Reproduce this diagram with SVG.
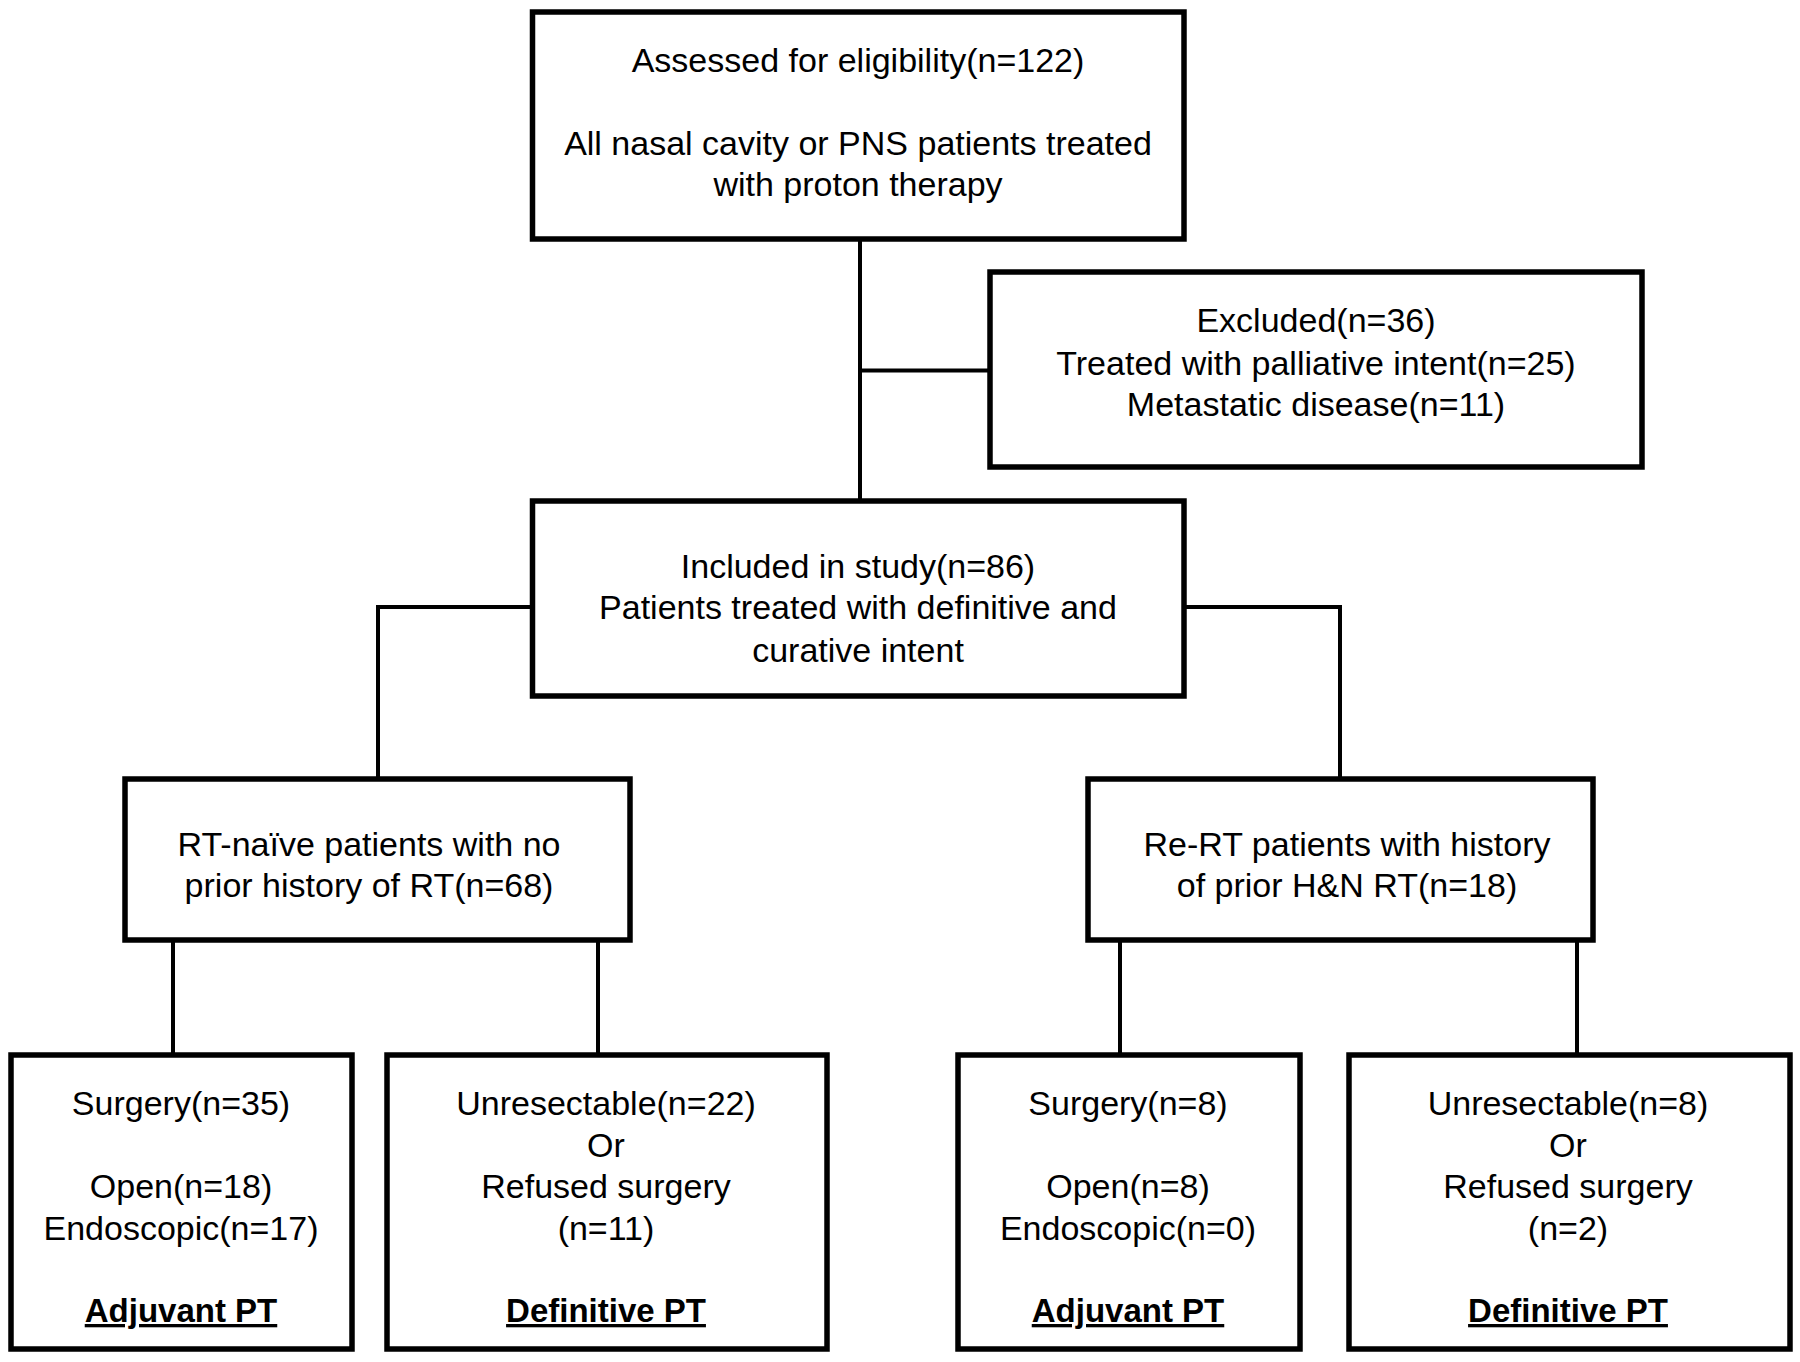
<svg xmlns="http://www.w3.org/2000/svg" width="1800" height="1362" viewBox="0 0 1800 1362">
<style>
.box{fill:#fff;stroke:#000;stroke-width:5.5}
.con{fill:none;stroke:#000;stroke-width:4}
text{font-family:"Liberation Sans",Arial,sans-serif;font-size:34px;fill:#000;text-anchor:middle}
.b{font-weight:bold;font-size:33px;text-decoration:underline}
</style>
<rect width="1800" height="1362" fill="#fff"/>
<g id="connectors">
<path class="con" d="M860 239V501"/>
<path class="con" d="M860 370.5H990"/>
<path class="con" d="M532.5 607H378V779"/>
<path class="con" d="M1184 607H1340V779"/>
<path class="con" d="M173 939V1055"/>
<path class="con" d="M598 939V1055"/>
<path class="con" d="M1120 939V1055"/>
<path class="con" d="M1577 939V1055"/>
</g>
<g id="assessed">
<rect class="box" x="532.5" y="12" width="651.5" height="227"/>
<text x="858" y="72">Assessed for eligibility(n=122)</text>
<text x="858" y="155">All nasal cavity or PNS patients treated</text>
<text x="858" y="196">with proton therapy</text>
</g>
<g id="excluded">
<rect class="box" x="990" y="272" width="652" height="195"/>
<text x="1316" y="332">Excluded(n=36)</text>
<text x="1316" y="375">Treated with palliative intent(n=25)</text>
<text x="1316" y="416">Metastatic disease(n=11)</text>
</g>
<g id="included">
<rect class="box" x="532.5" y="501" width="651.5" height="195"/>
<text x="858" y="578">Included in study(n=86)</text>
<text x="858" y="619">Patients treated with definitive and</text>
<text x="858" y="662">curative intent</text>
</g>
<g id="rt-naive">
<rect class="box" x="125" y="779" width="505" height="161"/>
<text x="369" y="856">RT-naïve patients with no</text>
<text x="369" y="897">prior history of RT(n=68)</text>
</g>
<g id="re-rt">
<rect class="box" x="1088" y="779" width="505" height="161"/>
<text x="1347" y="856">Re-RT patients with history</text>
<text x="1347" y="897">of prior H&amp;N RT(n=18)</text>
</g>
<g id="surgery-naive">
<rect class="box" x="11" y="1055" width="341" height="294"/>
<text x="181" y="1115">Surgery(n=35)</text>
<text x="181" y="1198">Open(n=18)</text>
<text x="181" y="1240">Endoscopic(n=17)</text>
<text class="b" x="181" y="1322">Adjuvant PT</text>
</g>
<g id="definitive-naive">
<rect class="box" x="387" y="1055" width="440" height="294"/>
<text x="606" y="1115">Unresectable(n=22)</text>
<text x="606" y="1157">Or</text>
<text x="606" y="1198">Refused surgery</text>
<text x="606" y="1240">(n=11)</text>
<text class="b" x="606" y="1322">Definitive PT</text>
</g>
<g id="surgery-rert">
<rect class="box" x="958" y="1055" width="342" height="294"/>
<text x="1128" y="1115">Surgery(n=8)</text>
<text x="1128" y="1198">Open(n=8)</text>
<text x="1128" y="1240">Endoscopic(n=0)</text>
<text class="b" x="1128" y="1322">Adjuvant PT</text>
</g>
<g id="definitive-rert">
<rect class="box" x="1349" y="1055" width="441" height="294"/>
<text x="1568" y="1115">Unresectable(n=8)</text>
<text x="1568" y="1157">Or</text>
<text x="1568" y="1198">Refused surgery</text>
<text x="1568" y="1240">(n=2)</text>
<text class="b" x="1568" y="1322">Definitive PT</text>
</g>
</svg>
